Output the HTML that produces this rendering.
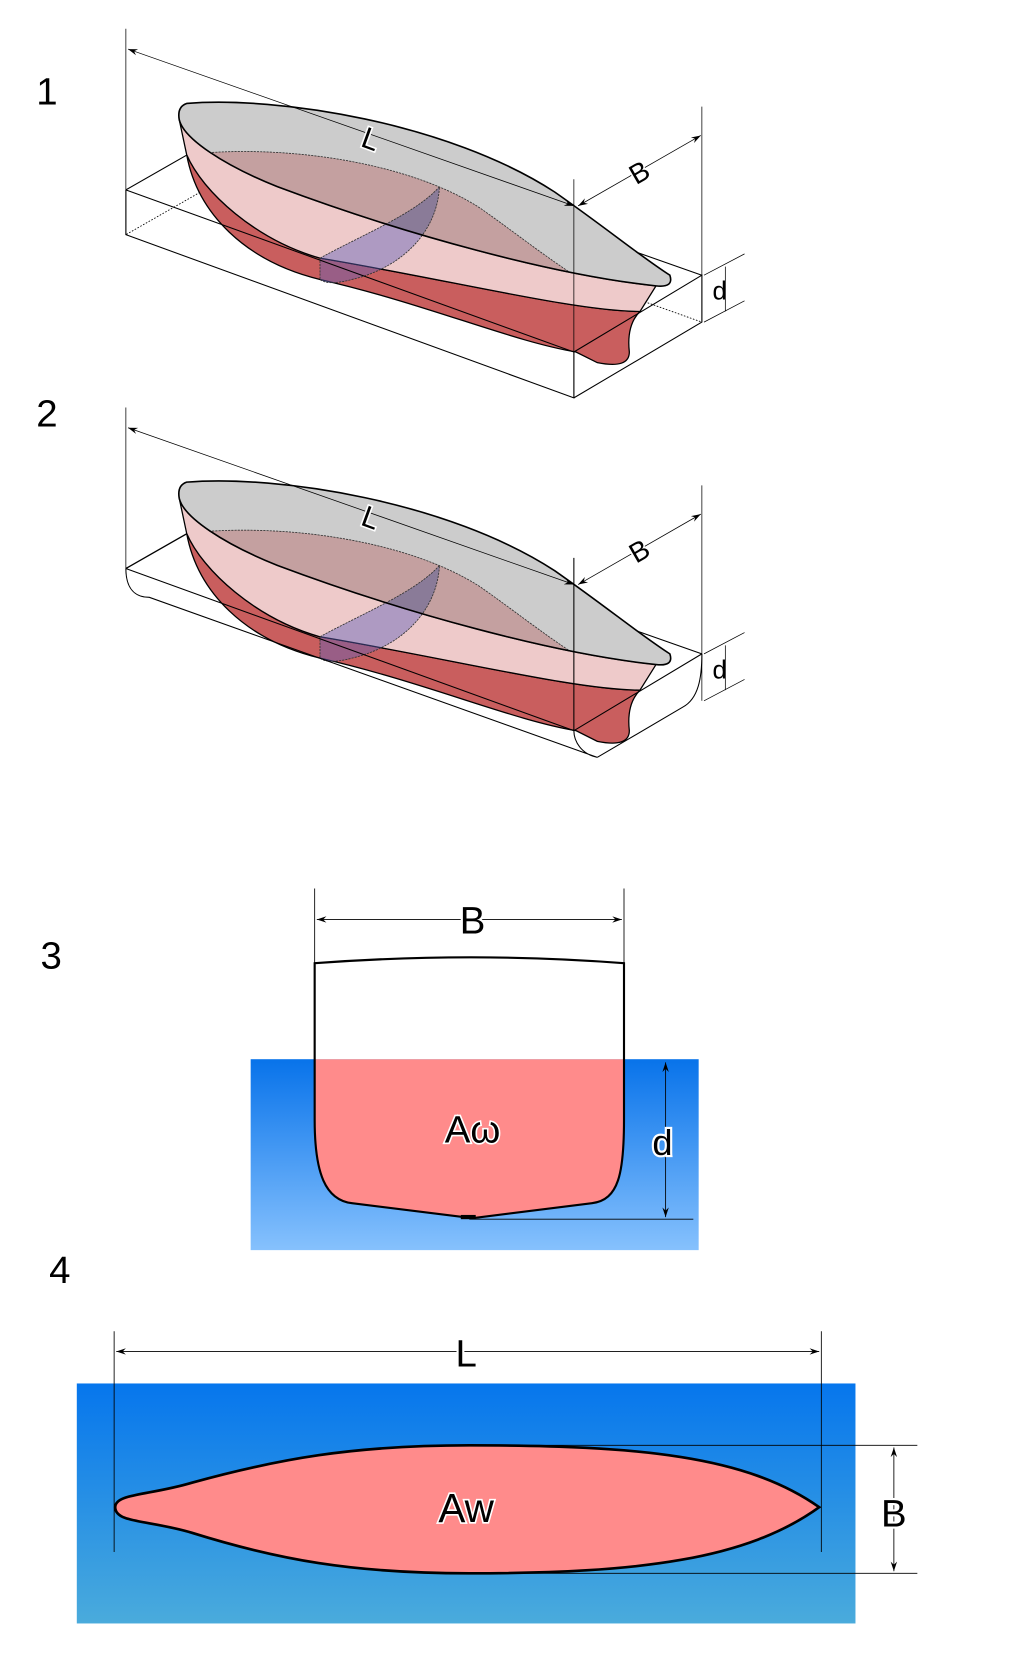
<!DOCTYPE html>
<html><head><meta charset="utf-8"><style>html,body{margin:0;padding:0;background:#fff}svg{display:block}</style></head>
<body>
<svg width="1024" height="1680" viewBox="0 0 960 1575" xmlns="http://www.w3.org/2000/svg" font-family="Liberation Sans, sans-serif">
<defs>
<marker id="ar" markerWidth="10" markerHeight="8" refX="9" refY="4" orient="auto" markerUnits="userSpaceOnUse"><path d="M0,1 L9,4 L0,7 L3,4Z" fill="#000"/></marker>
<marker id="al" markerWidth="10" markerHeight="8" refX="1" refY="4" orient="auto" markerUnits="userSpaceOnUse"><path d="M10,1 L1,4 L10,7 L7,4Z" fill="#000"/></marker>
<linearGradient id="w3" x1="0" y1="0" x2="0" y2="1"><stop offset="0" stop-color="#0873ea"/><stop offset="1" stop-color="#86c1fd"/></linearGradient>
<linearGradient id="w4" x1="0" y1="0" x2="0" y2="1"><stop offset="0" stop-color="#0676ed"/><stop offset="1" stop-color="#4aabdc"/></linearGradient>
<clipPath id="dk"><path d="M175,97 C260,90 420,115 520,180 C570,215 600,240 628,258 Q632,270 615,268 C520,258 380,220 260,175 C210,155 172,130 168,112 Q166,100 175,97Z"/></clipPath>
<g id="hull">
<path d="M175,145 C185,200 230,245 300,262 C400,285 480,320 540,330 L560,340 Q590,346 590,330 C588,312 592,300 600,292 C540,292 420,262 300,242 C240,225 190,180 175,145Z" fill="#c95e5e" stroke="#000" stroke-width="1.2"/>
<path d="M168,112 C172,130 210,155 260,175 C380,220 520,258 615,268 L600,292 C540,292 420,262 300,242 C240,225 190,180 175,145 Z" fill="#eecaca" stroke="#000" stroke-width="1.2"/>
<path d="M300,242 C340,220 390,200 412,175 C410,215 380,250 330,262 C315,266 305,266 300,262Z" fill="rgba(95,95,185,0.45)" stroke="#333" stroke-width="0.8" stroke-dasharray="2,1"/>
<path d="M175,97 C260,90 420,115 520,180 C570,215 600,240 628,258 Q632,270 615,268 C520,258 380,220 260,175 C210,155 172,130 168,112 Q166,100 175,97Z" fill="#cccccc"/>
<g clip-path="url(#dk)">
<path d="M175,145 C260,135 380,150 450,195 C500,230 540,265 600,292 C540,292 420,262 300,242 C240,225 190,180 175,145Z" fill="#c4a0a0" stroke="#333" stroke-width="0.8" stroke-dasharray="2,1"/>
<path d="M300,242 C340,220 390,200 412,175 C410,215 380,250 330,262 C315,266 305,266 300,262Z" fill="#8a7b98" stroke="#333" stroke-width="0.8" stroke-dasharray="2,1"/>
</g>
<path d="M175,97 C260,90 420,115 520,180 C570,215 600,240 628,258 Q632,270 615,268 C520,258 380,220 260,175 C210,155 172,130 168,112 Q166,100 175,97Z" fill="none" stroke="#000" stroke-width="1.5"/>
</g>
</defs>
<g font-size="36"><text x="34" y="98">1</text><text x="34" y="400">2</text><text x="38" y="908">3</text><text x="46" y="1203">4</text></g>

<!-- Panel 1 -->
<g fill="none" stroke="#000" stroke-width="1">
<path d="M237,110 L237,152 L118,220 M237,152 L658,302" stroke-dasharray="1.5,1.5" stroke-width="0.8"/>
<path d="M118,178 L237,110 L658,258"/>
</g>
<use href="#hull"/>
<g fill="none" stroke="#000" stroke-width="1">
<path d="M118,178 L118,220 L538,373 L538,330 L118,178 M538,373 L658,302 L658,258 L538,330"/>
<path d="M118,27 V220 M658,100 V302 M538,168 V373" stroke-width="0.7"/>
<path d="M120,46 L538,193" marker-start="url(#al)" marker-end="url(#ar)" stroke-width="0.7"/>
<path d="M542,193 L657,127" marker-start="url(#al)" marker-end="url(#ar)" stroke-width="0.7"/>
<path d="M660,258 L698,238 M660,302 L698,282 M680,250 L680,292" stroke-width="0.7"/>
</g>
<text x="340" y="140" font-size="28" fill="#000" stroke="#fff" stroke-width="3" paint-order="stroke" transform="rotate(20 348 130)">L</text>
<text x="590" y="170" font-size="26" fill="#000" stroke="#fff" stroke-width="3" paint-order="stroke" transform="rotate(-30 600 160)">B</text>
<text x="668" y="281" font-size="24" fill="#000">d</text>

<!-- Panel 2 -->
<g transform="translate(0,355)">
<g fill="none" stroke="#000" stroke-width="1">
<path d="M237,110 C237,140 225,160 200,168 M237,110 L658,258" stroke-width="1"/>
<path d="M237,110 L118,178" stroke-width="1.3"/>
</g>
<use href="#hull"/>
<g fill="none" stroke="#000" stroke-width="1">
<path d="M118,178 L538,330 L658,258 M538,330 L538,168" />
<path d="M118,178 C118,195 125,205 140,205 L560,355 C545,352 538,340 538,330"/>
<path d="M560,355 L640,308 C655,300 658,280 658,258" />
<path d="M118,27 V178 M658,100 V302" stroke-width="0.7"/>
<path d="M120,46 L538,193" marker-start="url(#al)" marker-end="url(#ar)" stroke-width="0.7"/>
<path d="M542,193 L657,127" marker-start="url(#al)" marker-end="url(#ar)" stroke-width="0.7"/>
<path d="M660,258 L698,238 M660,302 L698,282 M680,250 L680,292" stroke-width="0.7"/>
</g>
<text x="340" y="140" font-size="28" fill="#000" stroke="#fff" stroke-width="3" paint-order="stroke" transform="rotate(20 348 130)">L</text>
<text x="590" y="170" font-size="26" fill="#000" stroke="#fff" stroke-width="3" paint-order="stroke" transform="rotate(-30 600 160)">B</text>
<text x="668" y="281" font-size="24" fill="#000">d</text>
</g>

<!-- Panel 3 -->
<rect x="235" y="993" width="420" height="179" fill="url(#w3)"/>
<path d="M295,903 Q443,892 585,903 L585,993 L295,993Z" fill="#fff"/>
<path d="M295,993 L585,993 L585,1050 C585,1100 580,1125 555,1128 L443,1142 L330,1128 C305,1125 295,1100 295,1050Z" fill="#ff8b8b"/>
<path d="M295,903 Q443,892 585,903 L585,1050 C585,1100 580,1125 555,1128 L443,1142 L330,1128 C305,1125 295,1100 295,1050Z" fill="none" stroke="#000" stroke-width="2"/>
<rect x="432" y="1139" width="14" height="4" fill="#000"/>
<g stroke="#000" stroke-width="0.8" fill="none">
<path d="M295,833 V903 M585,833 V903"/>
<path d="M297,862 L583,862" marker-start="url(#al)" marker-end="url(#ar)"/>
<path d="M624,996 L624,1141" marker-start="url(#al)" marker-end="url(#ar)"/>
<path d="M440,1143 L650,1143"/>
</g>
<text x="443" y="875" font-size="36" text-anchor="middle" fill="#000" stroke="#fff" stroke-width="4" paint-order="stroke">B</text>
<text x="621" y="1083" font-size="34" text-anchor="middle" fill="#000" stroke="#fff" stroke-width="4" paint-order="stroke">d</text>
<text x="443" y="1071" font-size="36" text-anchor="middle" fill="#000" stroke="#fff" stroke-width="3" paint-order="stroke">Aω</text>

<!-- Panel 4 -->
<rect x="72" y="1297" width="730" height="225" fill="url(#w4)"/>
<path d="M108,1413 C108,1400 140,1402 180,1390 C260,1368 330,1355 440,1355 C600,1355 700,1365 768,1413 C700,1462 600,1475 440,1475 C330,1475 260,1462 180,1437 C140,1425 108,1428 108,1413Z" fill="#ff8b8b" stroke="#000" stroke-width="2.5"/>
<g stroke="#000" stroke-width="0.8" fill="none">
<path d="M107,1248 V1455 M770,1248 V1455"/>
<path d="M109,1267 L768,1267" marker-start="url(#al)" marker-end="url(#ar)"/>
<path d="M440,1355 H860 M440,1475 H860"/>
<path d="M838,1357 V1473" marker-start="url(#al)" marker-end="url(#ar)"/>
</g>
<text x="437" y="1281" font-size="36" text-anchor="middle" fill="#000" stroke="#fff" stroke-width="4" paint-order="stroke">L</text>
<text x="838" y="1431" font-size="36" text-anchor="middle" fill="#000" stroke="#fff" stroke-width="4" paint-order="stroke">B</text>
<text x="437" y="1427" font-size="38" text-anchor="middle" fill="#000" stroke="#fff" stroke-width="3" paint-order="stroke">Aw</text>
</svg>
</body></html>
